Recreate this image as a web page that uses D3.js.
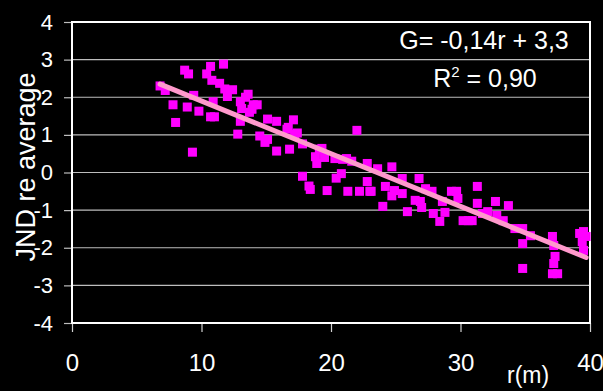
<!DOCTYPE html>
<html>
<head>
<meta charset="utf-8">
<script src="https://cdn.jsdelivr.net/npm/d3@7"></script>
<style>
  html, body { margin: 0; padding: 0; background: #000; }
  svg { display: block; }
  text { font-family: "Liberation Sans", Arial, sans-serif; fill: #fff; }
</style>
</head>
<body>
<script>
// Distance from source (m) for each measurement
const distance = [
  6.8, 7.2, 7.8, 8.0, 8.7, 9.0, 8.9, 9.4, 9.8, 9.3,
  10.4, 10.7, 11.7, 10.8, 11.4, 11.8, 12.0, 12.4, 10.9, 10.7,
  11.0, 13.0, 13.4, 13.6, 13.1, 14.3, 13.9, 13.0, 12.8, 15.1,
  15.8, 17.1, 14.5, 15.1, 14.9, 15.8, 16.7, 16.8, 17.2, 17.8,
  18.8, 18.9, 19.3, 17.8, 18.3, 19.5, 14.0, 13.7, 16.6, 17.4,
  19.7, 20.3, 20.4, 20.8, 21.2, 21.3, 19.1, 20.9, 21.6, 22.2,
  22.8, 22.8, 23.1, 23.6, 24.0, 24.2, 24.7, 24.7, 24.9, 25.5,
  25.5, 25.9, 26.5, 26.8, 27.0, 27.3, 27.8, 27.9, 28.4, 28.6,
  28.8, 29.3, 29.7, 29.8, 30.2, 30.6, 31.3, 31.3, 31.7, 32.7,
  32.8, 26.9, 30.9, 32.1, 33.3, 33.7, 34.2, 34.8, 34.8, 35.4,
  34.8, 37.1, 37.2, 37.3, 37.2, 37.1, 37.5, 39.2, 39.5, 39.4,
  39.5, 22.0, 18.4, 23.0, 39.7
];

// JND relative to the average at each distance
const jnd = [
  2.30, 2.18, 1.80, 1.33, 2.72, 2.62, 1.74, 2.05, 1.63, 0.54,
  2.62, 2.82, 2.88, 2.45, 2.37, 2.22, 2.02, 2.20, 1.88, 1.48,
  1.48, 1.88, 2.00, 2.08, 1.70, 1.80, 1.68, 1.36, 1.02, 1.42,
  1.36, 1.40, 0.97, 0.88, 0.80, 0.57, 1.20, 0.62, 1.02, 0.76,
  0.42, 0.24, 0.64, -0.10, -0.36, 0.40, 1.80, 1.60, 1.15, 1.05,
  -0.48, 0.37, -0.15, -0.03, 0.37, -0.50, 0.62, 0.35, 0.30, -0.50,
  0.24, -0.24, -0.50, 0.10, -0.90, -0.37, 0.15, -0.62, -0.48, -0.16,
  -0.56, -1.04, -0.74, -0.16, -0.93, -0.43, -0.50, -1.09, -1.30, -0.77,
  -1.06, -0.50, -0.50, -0.69, -1.28, -1.28, -0.37, -0.82, -1.09, -0.77,
  -1.14, -0.77, -1.28, -1.04, -1.28, -0.88, -1.49, -1.49, -1.89, -1.68,
  -2.55, -1.70, -1.94, -2.23, -2.42, -2.69, -2.69, -1.62, -1.57, -1.84,
  -2.07, 1.12, -0.45, -0.50, -1.70
];

// Linear fit G = slope * r + intercept
const fitSlope = -0.14;
const fitIntercept = 3.3;
const fitLabel = "G= -0,14r + 3,3";
const r2Value = "0,90";

const xTicks = [0, 10, 20, 30, 40];
const yTicks = [-4, -3, -2, -1, 0, 1, 2, 3, 4];

const W = 603, H = 391;
const margin = { left: 72, right: 13, top: 22, bottom: 68 };
const innerW = W - margin.left - margin.right;
const innerH = H - margin.top - margin.bottom;

const svg = d3.select("body").append("svg")
  .attr("width", W).attr("height", H)
  .style("background", "#000");

const x = d3.scaleLinear().domain([0, 40]).range([margin.left, margin.left + innerW]);
const y = d3.scaleLinear().domain([-4, 4]).range([margin.top + innerH, margin.top]);

// Plain hyphen-minus labels
const fmt = d => String(d);

// Horizontal gridlines
svg.append("g")
  .selectAll("line")
  .data(yTicks.filter(t => t > -4 && t < 4))
  .join("line")
  .attr("x1", x(0)).attr("x2", x(40))
  .attr("y1", d => y(d)).attr("y2", d => y(d))
  .attr("stroke", "#bdbdbd").attr("stroke-width", 1.2);

// Y axis
const yAxis = svg.append("g")
  .attr("transform", `translate(${x(0)},0)`)
  .call(d3.axisLeft(y).tickValues(yTicks).tickSize(8).tickPadding(11).tickFormat(fmt));
yAxis.select(".domain").remove();
yAxis.selectAll(".tick line").attr("stroke", "#bdbdbd").attr("stroke-width", 1.2);
yAxis.selectAll(".tick text")
  .style("font-size", "22px")
  .style("fill", "#fff");

// X axis
const xAxis = svg.append("g")
  .attr("transform", `translate(0,${y(-4)})`)
  .call(d3.axisBottom(x).tickValues(xTicks).tickSize(9).tickPadding(22).tickFormat(fmt));
xAxis.select(".domain").remove();
xAxis.selectAll(".tick line").attr("stroke", "#d0d0d0").attr("stroke-width", 1.2);
xAxis.selectAll(".tick text")
  .style("font-size", "24px")
  .style("fill", "#fff");

// Plot frame
svg.append("rect")
  .attr("x", x(0)).attr("y", y(4))
  .attr("width", x(40) - x(0)).attr("height", y(-4) - y(4))
  .attr("fill", "none").attr("stroke", "#fff").attr("stroke-width", 2);

// Scatter points
const pts = distance.map((r, i) => ({ r, v: jnd[i] }));
const s = 9;
svg.append("g")
  .selectAll("rect")
  .data(pts)
  .join("rect")
  .attr("x", d => x(d.r) - s / 2)
  .attr("y", d => y(d.v) - s / 2)
  .attr("width", s).attr("height", s)
  .attr("fill", "#ff00ff");

// Trend line over the measured range
const [rMin, rMax] = d3.extent(distance);
const fit = [rMin, rMax].map(r => ({ r, v: fitSlope * r + fitIntercept }));
svg.append("path")
  .datum(fit)
  .attr("d", d3.line().x(d => x(d.r)).y(d => y(d.v)))
  .attr("stroke", "#ff99cc").attr("stroke-width", 5)
  .attr("stroke-linecap", "round")
  .attr("fill", "none");

// Fit annotation
svg.append("text")
  .attr("x", 484).attr("y", 49)
  .attr("text-anchor", "middle")
  .style("font-size", "25px")
  .text(fitLabel);

const r2 = svg.append("text")
  .attr("x", 485).attr("y", 87)
  .attr("text-anchor", "middle")
  .style("font-size", "25px");
r2.append("tspan").text("R");
r2.append("tspan").attr("dy", -10).style("font-size", "15px").text("2");
r2.append("tspan").attr("dy", 10).text(" = " + r2Value);

// Axis titles
svg.append("text")
  .attr("x", 507).attr("y", 383)
  .style("font-size", "23px")
  .text("r(m)");

svg.append("text")
  .attr("transform", "rotate(-90)")
  .attr("x", -167).attr("y", 35)
  .attr("text-anchor", "middle")
  .style("font-size", "27px")
  .text("JND re average");
</script>
</body>
</html>
